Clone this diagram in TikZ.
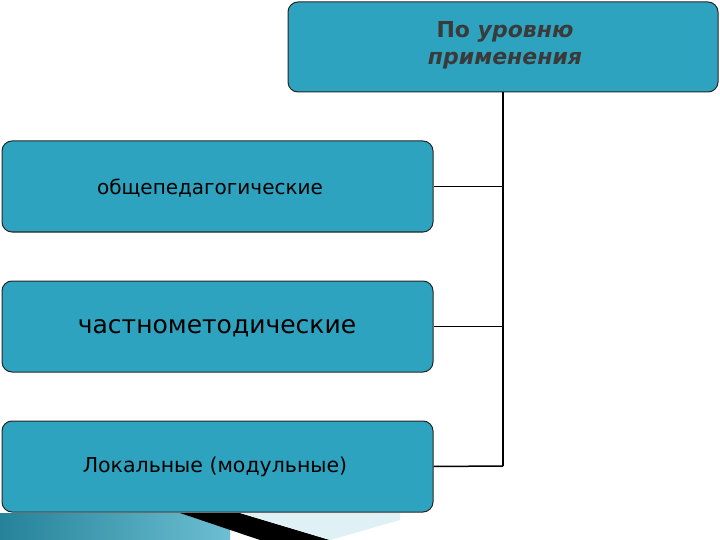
\documentclass[tikz,border=0pt]{standalone}
\usepackage{fontspec}
\setmainfont{DejaVu Sans}
\definecolor{boxc}{HTML}{2EA3BF}
\definecolor{txt}{HTML}{3A3A3A}
\begin{document}
\begin{tikzpicture}[x=1pt,y=-1pt,
  bx/.style={draw=black!85,line width=1pt,fill=boxc,rounded corners=10pt,inner sep=0pt},
  ln/.style={line width=1.5pt,black}]
\useasboundingbox (0,0) rectangle (720,540);
\fill[white] (0,0) rectangle (720,540);
% bottom strip
\shade[left color=boxc!80!black,right color=boxc!70!white] (0,513) rectangle (230,540);
\fill[black] (180,513) -- (240,513) -- (330,540) -- (260,540) -- cycle;
\fill[boxc!15] (240,513) -- (400,513) -- (400,520) -- (330,540) -- cycle;
\node[bx,minimum width=430pt,minimum height=90pt] (top) at (503,47) {};
\node[text=txt,font=\bfseries\fontsize{22}{27}\selectfont,align=center] (tt) at (505,45) {По \textit{уровню}\\ \textit{применения}};
\node[bx,minimum width=431pt,minimum height=91pt] (a) at (217.5,186.5) {};
\node[font=\fontsize{20}{24}\selectfont] (at) at (210,188) {общепедагогические};
\node[bx,minimum width=431pt,minimum height=91pt] (b) at (217.5,326.5) {};
\node[font=\fontsize{25}{30}\selectfont] (bt) at (217,328) {частнометодические};
\node[bx,minimum width=431pt,minimum height=91pt] (c) at (217.5,466.5) {};
\node[font=\fontsize{20.5}{25}\selectfont] (ct) at (215,467) {Локальные (модульные)};
\coordinate (j) at (503,466);
\draw[ln] (top.south) -- (j);
\draw[ln] (a.east) -- (a.east -| j);
\draw[ln] (b.east) -- (b.east -| j);
\draw[ln] (c.east) -- (j);
\end{tikzpicture}
\end{document}
